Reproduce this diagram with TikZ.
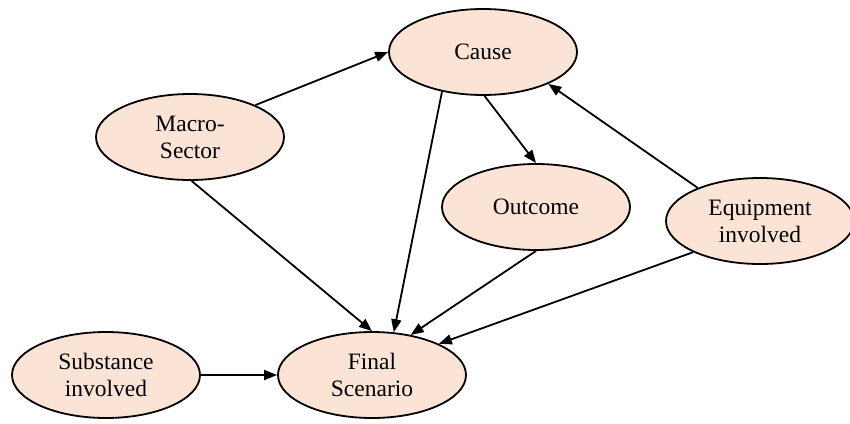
\documentclass[tikz,border=0pt]{standalone}
\usepackage{fontspec}
\setmainfont{Liberation Serif}
\usetikzlibrary{shapes.geometric, arrows.meta}
\definecolor{peach}{RGB}{251,228,214}
\tikzset{
->, % directed edges
>={Triangle[length=13pt,width=10pt]}, % filled arrow heads
factor/.style={ellipse, draw, line width=1.8pt, fill=peach, minimum width=188pt, minimum height=86pt, inner sep=0pt, align=center, font=\fontsize{23.5}{27}\selectfont}, % every variable node
link/.style={line width=1.8pt}, % every edge
}
\begin{document}
\begin{tikzpicture}[x=1pt,y=-1pt]
\useasboundingbox (0,0) rectangle (850,423);
\node[factor] (cause) at (483,52) {Cause};
\node[factor] (macro) at (190,137) {Macro-\\Sector};
\node[factor] (outcome) at (536,207) {Outcome};
\node[factor] (equip) at (760,221) {Equipment\\involved};
\node[factor] (subst) at (106,375) {Substance\\involved};
\node[factor] (final) at (372,375) {Final\\Scenario};
\draw[link] (macro.26) -- (cause.180);
\draw[link] (macro.272) -- (final.90);
\draw[link] (cause.224) -- (final.63);
\draw[link] (cause.272) -- (outcome.90);
\draw[link] (equip.152) -- (cause.334);
\draw[link] (outcome.270) -- (final.46);
\draw[link] (equip.205) -- (final.25);
\draw[link] (subst.east) -- (final.west);
\end{tikzpicture}
\end{document}
